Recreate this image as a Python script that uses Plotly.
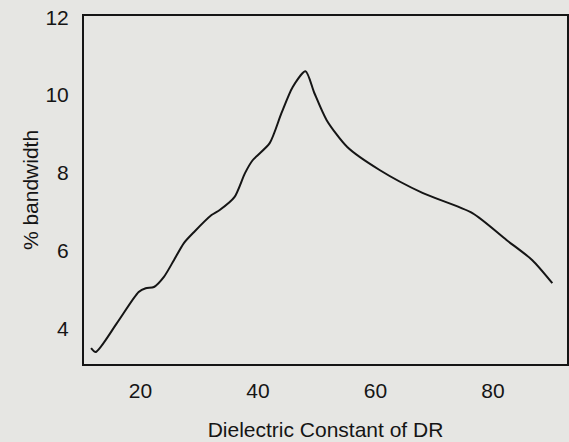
import plotly.graph_objects as go

dielectric = [11.6, 12.4, 16.0, 19.7, 20.9, 22.3, 24.0, 25.7, 27.4, 29.1, 32.1, 33.5,
              36.0, 37.8, 39.1, 42.0, 44.0, 45.9, 48.1, 49.6, 51.7, 55.2, 60.7, 68.0,
              76.5, 82.3, 86.7, 90.1]
bandwidth = [3.49, 3.39, 4.13, 4.93, 5.03, 5.06, 5.32, 5.75, 6.19, 6.47, 6.91, 7.04,
             7.37, 7.99, 8.32, 8.76, 9.53, 10.20, 10.61, 10.05, 9.35, 8.66, 8.07, 7.48,
             6.96, 6.27, 5.75, 5.16]
x_ticks = [20, 40, 60, 80]
y_ticks = [4, 6, 8, 10, 12]

bg = "#e6e6e3"
ink = "#151515"
font = "Liberation Sans, Arial, sans-serif"

fig = go.Figure()
fig.add_trace(go.Scatter(
    x=dielectric, y=bandwidth, mode="lines",
    line=dict(color=ink, width=2, shape="spline", smoothing=0.7),
    showlegend=False, hoverinfo="skip"))

fig.update_layout(
    width=569, height=442,
    margin=dict(l=84, r=2, t=16, b=78),
    paper_bgcolor=bg, plot_bgcolor=bg,
    font=dict(family=font, color=ink, size=21),
)
fig.update_xaxes(
    range=[10.4, 92.6], tickvals=x_ticks, ticks="", showgrid=False, zeroline=False,
    showline=True, linecolor=ink, linewidth=2, mirror=True, automargin=False,
    tickfont=dict(size=21), ticklabelstandoff=7,
    title=dict(text="Dielectric Constant of DR", font=dict(size=21), standoff=21),
)
fig.update_yaxes(
    range=[3.08, 12.03], tickvals=y_ticks, ticks="", showgrid=False, zeroline=False,
    showline=True, linecolor=ink, linewidth=2, mirror=True, automargin=False,
    tickfont=dict(size=21), ticklabelstandoff=9,
    title=dict(text="% bandwidth", font=dict(size=21), standoff=1),
)

fig.write_html(
    "out.html",
    config={"displayModeBar": False, "staticPlot": True},
    post_script="document.body.style.margin='0';document.body.style.overflow='hidden';",
)
